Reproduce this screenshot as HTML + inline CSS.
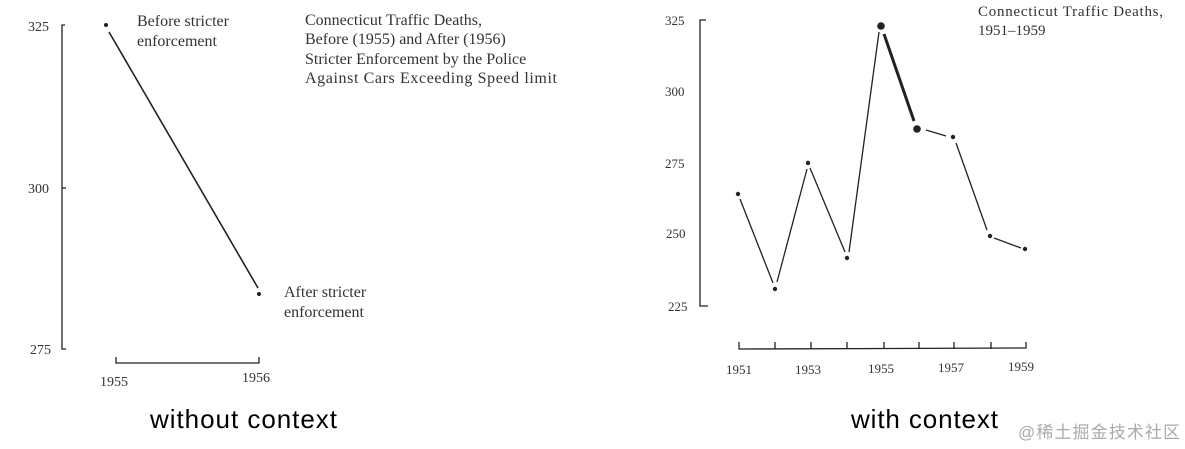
<!DOCTYPE html>
<html><head><meta charset="utf-8"><style>
body{margin:0;width:1185px;height:449px;background:#fff;overflow:hidden}
svg{display:block}
.s{font-family:"Liberation Serif",serif;fill:#333}
</style></head><body>
<svg width="1185" height="449" viewBox="0 0 1185 449">
<g stroke="#222" fill="none" stroke-width="1.3">
<polyline points="65,25 62,25 62,349 66,349"/>
<line x1="62" y1="188" x2="66" y2="188"/>
<polyline points="116,357 116,363 259,363 259,357"/>
<line x1="109" y1="32" x2="258" y2="288" stroke-width="1.6"/>
</g>
<circle cx="106" cy="25" r="2" fill="#222"/>
<circle cx="259" cy="294" r="2" fill="#222"/>
<g class="s" font-size="14">
<text x="28" y="31">325</text><text x="28" y="193">300</text><text x="30" y="354">275</text>
<text x="100" y="386">1955</text><text x="242" y="382">1956</text>
<text x="137" y="26" font-size="16">Before stricter</text><text x="137" y="46" font-size="16">enforcement</text>
<text x="284" y="297" font-size="16">After stricter</text><text x="284" y="317" font-size="16">enforcement</text>
<g font-size="16" textLength="252"><text x="305" y="25">Connecticut Traffic Deaths,</text>
<text x="305" y="44">Before (1955) and After (1956)</text>
<text x="305" y="64">Stricter Enforcement by the Police</text>
<text x="305" y="83" textLength="252">Against Cars Exceeding Speed limit</text></g>
</g>
<g stroke="#222" fill="none" stroke-width="1.3">
<polyline points="706,20 700,20 700,306 708,306"/>
<polyline points="739,342 739,349 1026,348 1026,342"/>
<line x1="775" y1="342" x2="775" y2="349"/><line x1="811" y1="342" x2="811" y2="349"/>
<line x1="847" y1="342" x2="847" y2="349"/><line x1="884" y1="342" x2="884" y2="349"/>
<line x1="919" y1="342" x2="919" y2="349"/><line x1="954" y1="342" x2="954" y2="349"/>
<line x1="991" y1="342" x2="991" y2="349"/>
<polyline points="740,199 773,283"/><polyline points="777,282 807,169"/>
<polyline points="810,168 845,252"/><polyline points="849,252 879,32"/>
<line x1="884" y1="34" x2="914" y2="121" stroke-width="3"/>
<polyline points="926,130 946,136"/><polyline points="956,143 987,230"/>
<polyline points="994,238 1021,248"/>
</g>
<g fill="#222">
<circle cx="738" cy="194" r="2.2"/><circle cx="775" cy="289" r="2.2"/><circle cx="808" cy="163" r="2.2"/>
<circle cx="847" cy="258" r="2.2"/><circle cx="881" cy="26" r="3.8"/><circle cx="917" cy="129" r="3.8"/>
<circle cx="953" cy="137" r="2.2"/><circle cx="990" cy="236" r="2.2"/><circle cx="1025" cy="249" r="2.2"/>
</g>
<g class="s" font-size="13">
<text x="665" y="25">325</text><text x="665" y="96">300</text><text x="665" y="168">275</text>
<text x="666" y="238">250</text><text x="668" y="311">225</text>
<text x="726" y="374">1951</text><text x="795" y="374">1953</text><text x="868" y="373">1955</text>
<text x="938" y="372">1957</text><text x="1008" y="371">1959</text>
<text x="978" y="16" font-size="15" textLength="185">Connecticut Traffic Deaths,</text>
<text x="978" y="35" font-size="15">1951–1959</text>
</g>
<g font-family="Liberation Sans,sans-serif" font-size="26" fill="#000">
<text x="150" y="428" textLength="187">without context</text><text x="851" y="428" textLength="147">with context</text>
</g>
<text x="1018" y="438" font-family="Liberation Sans,'Noto Sans CJK SC',sans-serif" font-size="17" fill="#aaa" textLength="162">@稀土掘金技术社区</text>
</svg>
</body></html>
